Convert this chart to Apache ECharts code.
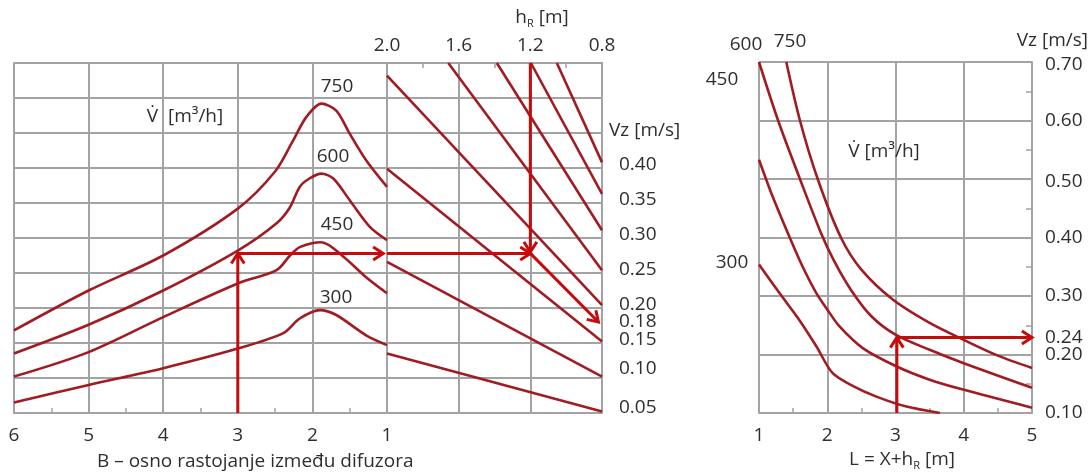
<!DOCTYPE html>
<html>
<head>
<meta charset="utf-8">
<script src="https://cdn.jsdelivr.net/npm/echarts@6/dist/echarts.min.js"></script>
<style>
html,body{margin:0;padding:0;background:#fff;}
#chart{width:1092px;height:474px;}
</style>
</head>
<body>
<div id="chart"></div>
<script>
// ---------------- DATA ----------------
const flowRates = [300, 450, 600, 750];

// Left panel: B [m] (axis distance between diffusers) -> Vz [m/s]
const left300 = [[6,0.065],[5,0.090],[4,0.114],[3,0.142],[2.39,0.164],[2.17,0.185],[1.9,0.197],[1.68,0.190],[1.28,0.161],[1.0,0.147]];
const left450 = [[6,0.102],[5,0.137],[4,0.187],[3,0.235],[2.48,0.254],[2.3,0.275],[2.17,0.287],[1.88,0.294],[1.58,0.273],[1.28,0.244],[1.0,0.221]];
const left600 = [[6,0.135],[5,0.176],[4,0.225],[3,0.282],[2.48,0.321],[2.3,0.344],[2.17,0.373],[2.04,0.385],[1.88,0.392],[1.72,0.385],[1.5,0.354],[1.23,0.316],[1.0,0.297]];
const left750 = [[6,0.168],[5,0.225],[4,0.275],[3,0.342],[2.5,0.395],[2.26,0.439],[2.08,0.473],[1.88,0.492],[1.68,0.482],[1.5,0.449],[1.28,0.411],[1.0,0.373]];

// Middle panel: hR [m] -> Vz [m/s] (straight guide lines)
const hrLine1 = [[2.0,0.135],[0.8,0.052]];
const hrLine2 = [[2.0,0.266],[0.8,0.102]];
const hrLine3 = [[2.0,0.399],[0.8,0.152]];
const hrLine4 = [[2.0,0.532],[0.8,0.204]];
const hrLine5 = [[1.658,0.55],[0.8,0.254]];
const hrLine6 = [[1.387,0.55],[0.8,0.311]];
const hrLine7 = [[1.197,0.55],[0.8,0.363]];
const hrLine8 = [[1.052,0.55],[0.8,0.408]];

// Right panel: L = X + hR [m] -> Vz [m/s]
const right300 = [[1.0,0.354],[1.3,0.305],[1.59,0.259],[1.84,0.214],[2.08,0.168],[2.38,0.146],[2.72,0.128],[3.16,0.111],[3.65,0.100]];
const right450 = [[1.0,0.533],[1.2,0.470],[1.45,0.400],[1.64,0.350],[1.84,0.305],[2.0,0.277],[2.18,0.248],[2.52,0.211],[3.01,0.180],[3.5,0.157],[3.99,0.140],[5.0,0.109]];
const right600 = [[1.0,0.70],[1.28,0.60],[1.6,0.50],[1.9,0.41],[2.1,0.36],[2.35,0.31],[2.65,0.265],[3.0,0.234],[3.5,0.208],[4.0,0.185],[5.0,0.143]];
const right750 = [[1.40,0.70],[1.6,0.60],[1.86,0.50],[2.2,0.40],[2.5,0.345],[2.96,0.294],[3.5,0.254],[4.0,0.225],[4.5,0.198],[5.0,0.177]];

// Example reading arrows [x1, y1, x2, y2]
const arrowsLeft  = [[3,0.05,3,0.278],[3,0.278,1.05,0.278]];
const arrowsMid   = [[2.0,0.278,1.2,0.278],[1.2,0.55,1.2,0.280],[1.2,0.278,0.82,0.180]];
const arrowsRight = [[3.02,0.10,3.02,0.229],[3.02,0.229,5.0,0.229]];

// Tick labels
const bTicks = [1,2,3,4,5,6];
const hrTicks = [0.8,1.2,1.6,2.0];
const vzTicksMid = [0.05,0.10,0.15,0.18,0.20,0.25,0.30,0.35,0.40];
const vzTicksRight = [0.10,0.20,0.24,0.30,0.40,0.50,0.60,0.70];
const lTicks = [1,2,3,4,5];

// ---------------- STYLE ----------------
const FONT = 'Open Sans';
const TXT = '#2e2e2e';
const GRIDC = '#a3a3a3';
const CURVE = '#a01c22';
const ARROW = '#c40c0c';

const chart = echarts.init(document.getElementById('chart'), null, {renderer:'canvas'});

const gridLine = {show:true, lineStyle:{color:GRIDC, width:2}};
const axisLn = {show:true, lineStyle:{color:GRIDC, width:2}};
const tickIn = {show:true, inside:true, length:5, lineStyle:{color:GRIDC, width:1.5}};
const minorIn = {show:true, splitNumber:2, length:5, lineStyle:{color:GRIDC, width:1.5}};

function curveSeries(data, xi, yi, smooth){
  return {type:'line', data, xAxisIndex:xi, yAxisIndex:yi, showSymbol:false, symbol:'none',
    smooth: smooth, lineStyle:{color:CURVE, width:2.6}, silent:true, z:3, animation:false};
}

function arrowRender(params, api){
  const p1 = api.coord([api.value(0), api.value(1)]);
  const p2 = api.coord([api.value(2), api.value(3)]);
  const ang = Math.atan2(p2[1]-p1[1], p2[0]-p1[0]);
  const L = 12, a = Math.PI/5.5;
  const h1 = [p2[0]-L*Math.cos(ang-a), p2[1]-L*Math.sin(ang-a)];
  const h2 = [p2[0]-L*Math.cos(ang+a), p2[1]-L*Math.sin(ang+a)];
  return {type:'group', children:[
    {type:'line', shape:{x1:p1[0],y1:p1[1],x2:p2[0],y2:p2[1]}, style:{stroke:ARROW, lineWidth:3}},
    {type:'polyline', shape:{points:[h1,p2,h2]}, style:{stroke:ARROW, lineWidth:3, fill:null}}
  ]};
}
function arrowSeries(data, xi, yi){
  return {type:'custom', data, xAxisIndex:xi, yAxisIndex:yi, renderItem:arrowRender, z:5,
    encode:{x:[0,2], y:[1,3]}, clip:false, silent:true, animation:false};
}

const labelStyle = {fontFamily:FONT, fontSize:19, color:TXT};

const option = {
  backgroundColor:'#fff',
  animation:false,
  grid:[
    {left:14, top:63, width:373, height:350},
    {left:387, top:63, width:215, height:350},
    {left:759, top:62, width:273, height:351}
  ],
  xAxis:[
    {gridIndex:0, type:'value', min:1, max:6, interval:1, inverse:true, position:'bottom',
     axisLine:axisLn, splitLine:gridLine, axisTick:tickIn, minorTick:minorIn,
     axisLabel:Object.assign({margin:13, customValues:bTicks, formatter:v=>String(v)}, labelStyle)},
    {gridIndex:1, type:'value', min:0.8, max:2.0, interval:0.4, inverse:true, position:'top',
     axisLine:axisLn, splitLine:gridLine, axisTick:tickIn, minorTick:minorIn,
     axisLabel:Object.assign({margin:8, customValues:hrTicks, formatter:v=>v.toFixed(1)}, labelStyle)},
    {gridIndex:2, type:'value', min:1, max:5, interval:1, position:'bottom',
     axisLine:axisLn, splitLine:gridLine, axisTick:tickIn, minorTick:minorIn,
     axisLabel:Object.assign({margin:13, customValues:lTicks, formatter:v=>String(v)}, labelStyle)}
  ],
  yAxis:[
    {gridIndex:0, type:'value', min:0.05, max:0.55, interval:0.05, position:'left',
     axisLine:axisLn, splitLine:gridLine, axisTick:{show:false}, axisLabel:{show:false}},
    {gridIndex:1, type:'value', min:0.05, max:0.55, interval:0.05, position:'right',
     axisLine:axisLn, splitLine:gridLine, axisTick:{show:false},
     axisLabel:Object.assign({margin:17, customValues:vzTicksMid,
       formatter:function(v){
         const t = v.toFixed(2);
         if (Math.abs(v-0.10)<1e-6) return '{b|'+t+'}';
         if (Math.abs(v-0.05)<1e-6) return '{c|'+t+'}';
         if (Math.abs(v-0.18)<1e-6) return '{n|'+t+'}';
         return '{a|'+t+'}';
       },
       rich:{
         a:{fontFamily:FONT, fontSize:19, color:TXT, padding:[0,0,6,0]},
         b:{fontFamily:FONT, fontSize:19, color:TXT, padding:[0,0,18,0]},
         c:{fontFamily:FONT, fontSize:19, color:TXT, padding:[0,0,10,0]},
         n:{fontFamily:FONT, fontSize:19, color:TXT}
       }}, labelStyle)},
    {gridIndex:2, type:'value', min:0.1, max:0.7, interval:0.1, position:'right',
     axisLine:axisLn, splitLine:gridLine, axisTick:{show:true, inside:true, length:6, lineStyle:{color:GRIDC, width:1.5}},
     minorTick:{show:true, splitNumber:2, length:6, lineStyle:{color:GRIDC, width:1.5}},
     axisLabel:Object.assign({margin:13, customValues:vzTicksRight,
       formatter:function(v){
         const t = v.toFixed(2);
         if (Math.abs(v-0.24)<1e-6) return '{d|'+t+'}';
         if (Math.abs(v-0.50)<1e-6 || Math.abs(v-0.70)<1e-6) return '{e|'+t+'}';
         return '{n|'+t+'}';
       },
       rich:{
         d:{fontFamily:FONT, fontSize:19, color:TXT, padding:[12,0,0,0]},
         e:{fontFamily:FONT, fontSize:19, color:TXT, padding:[5,0,0,0]},
         n:{fontFamily:FONT, fontSize:19, color:TXT}
       }}, labelStyle)}
  ],
  series:[
    curveSeries(left300,0,0,0.3), curveSeries(left450,0,0,0.3),
    curveSeries(left600,0,0,0.3), curveSeries(left750,0,0,0.3),
    curveSeries(hrLine1,1,1,false), curveSeries(hrLine2,1,1,false),
    curveSeries(hrLine3,1,1,false), curveSeries(hrLine4,1,1,false),
    curveSeries(hrLine5,1,1,false), curveSeries(hrLine6,1,1,false),
    curveSeries(hrLine7,1,1,false), curveSeries(hrLine8,1,1,false),
    curveSeries(right300,2,2,0.3), curveSeries(right450,2,2,0.3),
    curveSeries(right600,2,2,0.3), curveSeries(right750,2,2,0.3),
    arrowSeries(arrowsLeft,0,0), arrowSeries(arrowsMid,1,1), arrowSeries(arrowsRight,2,2)
  ],
  graphic:[]
};

// ---------------- TEXT LAYOUT ----------------
function txt(text, x, y, align, size){
  return {type:'text', x:x, y:y, silent:true, z:10,
    style:{text:text, fontFamily:FONT, fontSize:size||19, fill:TXT, align:align||'center', verticalAlign:'middle'}};
}
function richTxt(text, x, y, align){
  return {type:'text', x:x, y:y, silent:true, z:10,
    style:{text:text, align:align||'center', verticalAlign:'middle',
      rich:{
        n:{fontFamily:FONT, fontSize:19, fill:TXT, lineHeight:22, verticalAlign:'middle'},
        s:{fontFamily:FONT, fontSize:11, fill:TXT, lineHeight:22, verticalAlign:'bottom'}
      }}};
}
const leftLabelPos = [[336,298],[337,225],[333,157],[337,87]];
const rightLabelPos = [[732,263],[722,80],[746,45],[790,42]];
flowRates.forEach((f,i)=>{
  option.graphic.push(txt(String(f), leftLabelPos[i][0], leftLabelPos[i][1]));
  option.graphic.push(txt(String(f), rightLabelPos[i][0], rightLabelPos[i][1]));
});
option.graphic.push(txt('V\u0307  [m\u00b3/h]', 185, 117));
option.graphic.push(txt('V\u0307 [m\u00b3/h]', 884, 152));
option.graphic.push(richTxt('{n|h}{s|R}{n| [m]}', 542, 18));
option.graphic.push(txt('Vz [m/s]', 609, 131, 'left'));
option.graphic.push(txt('Vz [m/s]', 1088, 41, 'right'));
option.graphic.push(richTxt('{n|L = X+h}{s|R}{n| [m]}', 902, 460));
option.graphic.push(txt('B \u2013 osno rastojanje između difuzora', 97, 462, 'left'));

chart.setOption(option);
</script>
</body>
</html>
